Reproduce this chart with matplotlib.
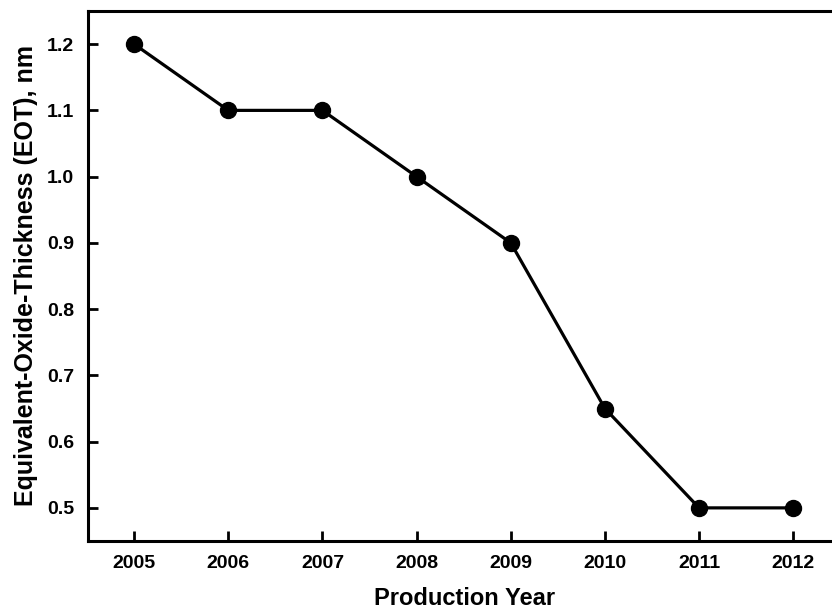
import matplotlib.pyplot as plt

years = [2005, 2006, 2007, 2008, 2009, 2010, 2011, 2012]
eot_nm = [1.2, 1.1, 1.1, 1.0, 0.9, 0.65, 0.5, 0.5]
y_ticks = [0.5, 0.6, 0.7, 0.8, 0.9, 1.0, 1.1, 1.2]

fig = plt.figure(figsize=(8.32, 6.14), dpi=100)
ax = fig.add_axes([88 / 832, 73 / 614, 1.0 - 88 / 832 + 0.01, 530 / 614])

ax.plot(years, eot_nm, color='black', linewidth=2.3, marker='o', markersize=11.5)

ax.set_xlim(2004.51, 2012.5)
ax.set_ylim(0.45, 1.25)
ax.set_xticks(years)
ax.set_yticks(y_ticks)
ax.set_xticklabels([str(y) for y in years])
ax.set_yticklabels(['%.1f' % v for v in y_ticks])

for side in ['left', 'bottom', 'top']:
    ax.spines[side].set_linewidth(2.2)
ax.spines['right'].set_visible(False)

ax.tick_params(direction='in', length=7, width=2, pad=10)
for lbl in ax.get_xticklabels() + ax.get_yticklabels():
    lbl.set_family('Liberation Sans')
    lbl.set_fontweight('bold')
    lbl.set_fontsize(14)

ax.set_xlabel('Production Year', family='Liberation Sans', fontsize=17,
              fontweight='bold', labelpad=11)
ax.set_ylabel('Equivalent-Oxide-Thickness (EOT), nm', family='Liberation Sans',
              fontsize=18, fontweight='bold')
ax.yaxis.set_label_coords(-0.066, 0.5)

fig.savefig('out.png', dpi=100)
